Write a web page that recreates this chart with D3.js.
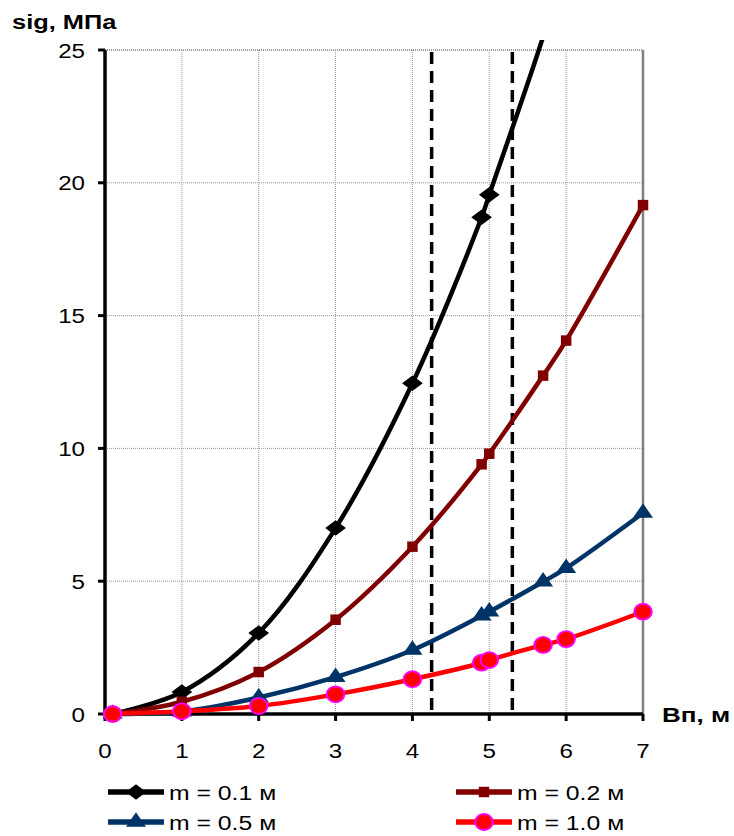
<!DOCTYPE html>
<html>
<head>
<meta charset="utf-8">
<script src="https://cdn.jsdelivr.net/npm/d3@7"></script>
<style>
  body { margin: 0; background: #fff; }
  text { font-family: Arial, "Liberation Sans", sans-serif; fill: #000; }
</style>
</head>
<body>
<div id="chart"></div>
<script>
// Values
const xVals = [0.1, 1, 2, 3, 4, 4.9, 5, 5.7, 6, 7];
const m01 = [0, 0.83, 3.05, 7.0, 12.45, 18.7, 19.55, 25.5, 28.5, 40.0];
const m02 = [0, 0.46, 1.58, 3.55, 6.3, 9.4, 9.8, 12.74, 14.06, 19.16];
const m05 = [0, 0.09, 0.62, 1.39, 2.41, 3.7, 3.85, 4.98, 5.49, 7.57];
const m10 = [0, 0.1, 0.3, 0.74, 1.31, 1.93, 2.03, 2.6, 2.82, 3.85];
const seriesNames = ["m = 0.1 м", "m = 0.2 м", "m = 0.5 м", "m = 1.0 м"];
const xTicks = [0, 1, 2, 3, 4, 5, 6, 7];
const yTicks = [0, 5, 10, 15, 20, 25];
const markLines = [4.25, 5.3];

const W = 734, H = 836;
const margin = {top: 50, right: 91, bottom: 122, left: 105},
    width = W - margin.left - margin.right,
    height = H - margin.top - margin.bottom;

const svg = d3.select("#chart").append("svg")
    .attr("width", W).attr("height", H);
const g = svg.append("g").attr("transform", `translate(${margin.left},${margin.top})`);

const x = d3.scaleLinear().domain([0, 7]).range([0, width]);
const y = d3.scaleLinear().domain([0, 25]).range([height, 0]);

const styles = [
    {color: "#000000", symbol: d3.symbolDiamond2, size: 190, fill: "#000000", stroke: "none", sx: 1.2, sy: 0.9},
    {color: "#800000", symbol: d3.symbolSquare2, size: 140, fill: "#800000", stroke: "none", sx: 1, sy: 1},
    {color: "#003366", symbol: d3.symbolTriangle2, size: 200, fill: "#003366", stroke: "none", sx: 1.2, sy: 1},
    {color: "#ff0000", symbol: d3.symbolCircle, size: 200, fill: "#ff0000", stroke: "#ff00ff", sx: 1.1, sy: 1}
];
const series = [m01, m02, m05, m10].map((vals, i) => ({
    name: seriesNames[i],
    style: styles[i],
    points: xVals.map((xv, j) => ({x: xv, y: vals[j]}))
}));

// stretched text, the source picture is wider than normal Arial
function label(parent, px, py, str, opts) {
    return parent.append("text")
        .attr("transform", `translate(${px},${py}) scale(${opts.sx || 1},1)`)
        .attr("text-anchor", opts.anchor || "start")
        .style("font-size", (opts.size || 20) + "px")
        .style("font-weight", opts.bold ? "bold" : "normal")
        .text(str);
}

// grid
g.append("g").selectAll("line.vg")
    .data(xTicks.filter(d => d > 0 && d < 7))
    .join("line")
    .attr("x1", d => x(d)).attr("x2", d => x(d))
    .attr("y1", 0).attr("y2", height)
    .attr("stroke", "#999").attr("stroke-width", 1).attr("stroke-dasharray", "1 1");
g.append("g").selectAll("line.hg")
    .data(yTicks.filter(d => d > 0))
    .join("line")
    .attr("x1", 0).attr("x2", width)
    .attr("y1", d => y(d)).attr("y2", d => y(d))
    .attr("stroke", "#999").attr("stroke-width", d => d === 25 ? 2 : 1).attr("stroke-dasharray", "1 1");

// right border of the plot area
g.append("line")
    .attr("x1", width).attr("x2", width).attr("y1", 0).attr("y2", height)
    .attr("stroke", "#808080").attr("stroke-width", 2.5);

// dashed vertical markers
g.append("g").selectAll("line")
    .data(markLines)
    .join("line")
    .attr("x1", d => x(d)).attr("x2", d => x(d))
    .attr("y1", 2).attr("y2", height)
    .attr("stroke", "#000").attr("stroke-width", 3.5).attr("stroke-dasharray", "12 7");

// axes
g.append("line").attr("x1", 0).attr("x2", width).attr("y1", height).attr("y2", height)
    .attr("stroke", "#000").attr("stroke-width", 3.5);
g.append("line").attr("x1", 0).attr("x2", 0).attr("y1", 0).attr("y2", height)
    .attr("stroke", "#000").attr("stroke-width", 3.5);
g.append("g").selectAll("line")
    .data(xTicks)
    .join("line")
    .attr("x1", d => x(d)).attr("x2", d => x(d))
    .attr("y1", height).attr("y2", height + 7)
    .attr("stroke", "#000").attr("stroke-width", 3);
g.append("g").selectAll("line")
    .data(yTicks)
    .join("line")
    .attr("x1", -7).attr("x2", 0)
    .attr("y1", d => y(d)).attr("y2", d => y(d))
    .attr("stroke", "#000").attr("stroke-width", 3);

xTicks.forEach(d => label(g, x(d), height + 44, d, {anchor: "middle", size: 21, sx: 1.15}));
yTicks.forEach(d => label(g, -20, y(d) + 7.5, d, {anchor: "end", size: 21, sx: 1.15}));

label(svg, 12, 29, "sig, МПа", {size: 20, bold: true, sx: 1.27});
label(svg, 662, 722, "Вп, м", {size: 20, bold: true, sx: 1.3});

// series, clipped a little above the plot top like the original
svg.append("clipPath").attr("id", "plotClip")
    .append("rect").attr("x", -20).attr("y", -10).attr("width", width + 40).attr("height", height + 40);
const plot = g.append("g").attr("clip-path", "url(#plotClip)");

const line = d3.line()
    .x(d => x(d.x))
    .y(d => y(d.y))
    .curve(d3.curveCatmullRom.alpha(0.5));

series.forEach(s => {
    plot.append("path")
        .datum(s.points)
        .attr("fill", "none")
        .attr("stroke", s.style.color)
        .attr("stroke-width", 4.5)
        .attr("stroke-linejoin", "round")
        .attr("d", line);
});
series.forEach(s => {
    plot.append("g").selectAll("path")
        .data(s.points.filter(p => p.y <= 25))
        .join("path")
        .attr("d", d3.symbol().type(s.style.symbol).size(s.style.size))
        .attr("transform", d => `translate(${x(d.x)},${y(d.y)}) scale(${s.style.sx},${s.style.sy})`)
        .attr("fill", s.style.fill)
        .attr("stroke", s.style.stroke)
        .attr("stroke-width", 1.8);
});

// legend
const legendPos = [
    {lx: 108, ly: 792},
    {lx: 456, ly: 792},
    {lx: 108, ly: 822},
    {lx: 456, ly: 822}
];
series.forEach((s, i) => {
    const p = legendPos[i];
    const lg = svg.append("g").attr("transform", `translate(${p.lx},${p.ly})`);
    lg.append("line")
        .attr("x1", 0).attr("x2", 56).attr("y1", 0).attr("y2", 0)
        .attr("stroke", s.style.color).attr("stroke-width", 5.5);
    lg.append("path")
        .attr("d", d3.symbol().type(s.style.symbol).size(s.style.size))
        .attr("transform", `translate(28,0) scale(${s.style.sx},${s.style.sy})`)
        .attr("fill", s.style.fill)
        .attr("stroke", s.style.stroke)
        .attr("stroke-width", 1.8);
    label(lg, 61, 8, s.name, {size: 21, sx: 1.18});
});
</script>
</body>
</html>
